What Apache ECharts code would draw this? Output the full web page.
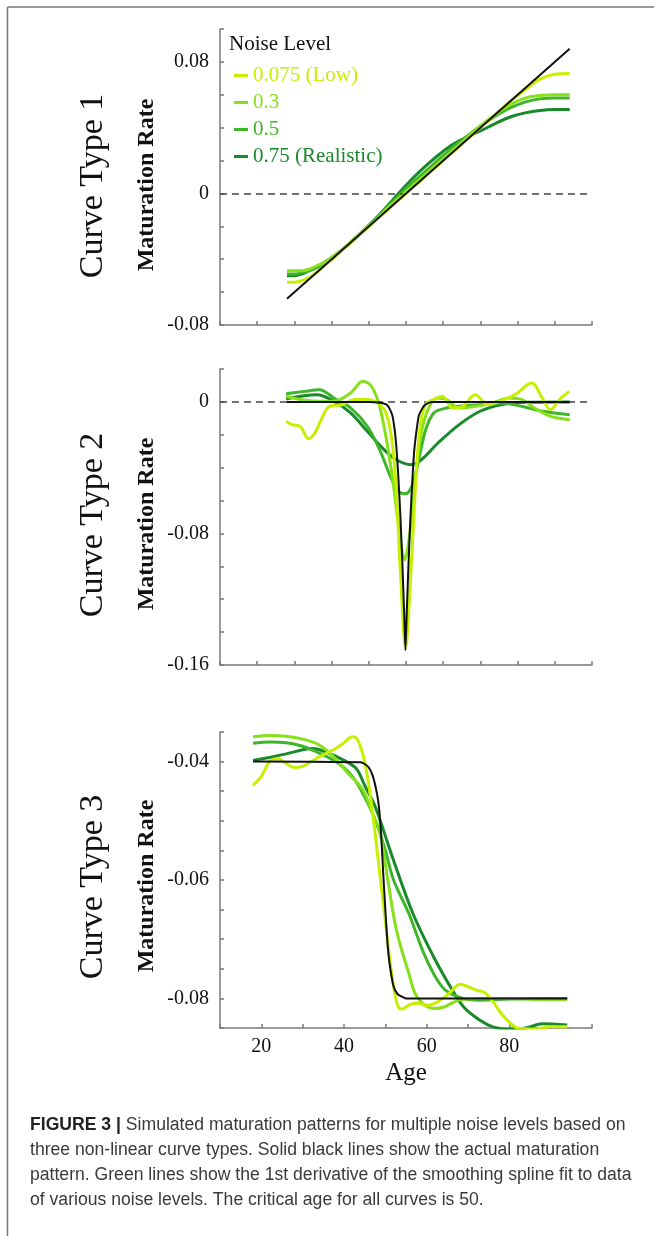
<!DOCTYPE html>
<html>
<head>
<meta charset="utf-8">
<script src="https://cdn.jsdelivr.net/npm/echarts@6/dist/echarts.min.js"></script>
<style>
html,body{margin:0;padding:0;background:#fff;}
#chart{width:654px;height:1236px;}
</style>
</head>
<body>
<div id="chart"></div>
<script>
// ---------------- DATA ----------------
const noiseNames = ['0.075 (Low)', '0.3', '0.5', '0.75 (Realistic)'];
const noiseColors = ['#c6f000', '#86e01a', '#3fb52a', '#198a2a'];

// Curve Type 1
const p1Ages = [18,20,22,24,26,28,30,34,38,42,46,50,54,58,62,66,70,74,78,82,86,90,94];
const p1Low   = [-0.054,-0.054,-0.053,-0.051,-0.048,-0.044,-0.040,-0.032,-0.024,-0.016,-0.008,0.000,0.008,0.016,0.024,0.032,0.040,0.048,0.056,0.063,0.0695,0.0725,0.073];
const p1N03   = [-0.047,-0.047,-0.047,-0.046,-0.044,-0.042,-0.039,-0.032,-0.024,-0.016,-0.007,0.001,0.009,0.017,0.025,0.033,0.041,0.048,0.054,0.058,0.0595,0.060,0.060];
const p1N05   = [-0.049,-0.049,-0.048,-0.047,-0.045,-0.043,-0.040,-0.032,-0.0235,-0.015,-0.006,0.003,0.011,0.019,0.027,0.034,0.041,0.047,0.052,0.0555,0.0575,0.058,0.058];
const p1Real  = [-0.050,-0.050,-0.049,-0.047,-0.045,-0.042,-0.039,-0.032,-0.024,-0.015,-0.005,0.005,0.014,0.022,0.029,0.034,0.038,0.0425,0.0465,0.049,0.0505,0.051,0.051];
const p1TrueAges = [18, 94];
const p1True     = [-0.064, 0.088];

// Curve Type 2
const p2LowAges = [17.8,19.3,21.6,23.8,25.5,27.2,29.4,32.8,36.2,39.5,42.3,44.6,46.2,47.4,48.5,49.9,51.3,52.5,53.6,55.2,57.4,59.8,62.5,65.3,68.6,72,75.4,79.3,83.8,86.6,88.8,91.7,93.9];
const p2Low     = [-0.0118,-0.0138,-0.015,-0.0224,-0.0189,-0.0108,-0.0027,-0.0017,0.0014,0.0014,-0.0006,-0.0067,-0.023,-0.0535,-0.104,-0.149,-0.104,-0.0535,-0.0189,-0.0017,0.0014,0.0034,-0.0037,-0.0027,0.0044,-0.0017,0.0004,0.0044,0.0115,0.0024,-0.0047,0.0024,0.0064];
const p2N03Ages = [17.8,21.6,26.1,30.6,35.1,38.4,40.7,42.9,45.2,46.8,48.5,49.6,50.8,52.5,54.1,56.3,58.6,60.9,64.3,68.8,73.3,77.8,81.2,84.5,89,94];
const p2N03     = [0.0034,0.0014,0.0004,0.0004,0.0054,0.0125,0.0095,-0.0027,-0.029,-0.0535,-0.084,-0.096,-0.084,-0.0474,-0.0189,-0.0027,0.0024,0.0014,-0.0037,-0.0027,-0.0006,0.0024,0.0014,-0.0037,-0.0088,-0.0108];
const p2N05Ages = [17.8,22.8,26.7,30.6,35.1,39.6,42.9,45.8,48,49.9,51.9,53.6,55.3,57.5,60.9,64.3,69.9,75.5,81.1,86.7,94];
const p2N05     = [0.005,0.0064,0.0074,0.0024,-0.0037,-0.0149,-0.029,-0.0453,-0.0545,-0.0559,-0.0494,-0.0332,-0.0169,-0.0067,-0.0037,-0.0027,-0.0017,-0.0006,-0.0027,-0.0057,-0.0078];
const p2RealAges = [17.8,21.6,26.1,30.6,35.1,39.6,44.1,47.4,51.3,54.1,58.6,64.3,69.9,75.5,82.2,94];
const p2Real     = [0.0018,0.0034,0.0044,0.0004,-0.0067,-0.0179,-0.029,-0.0352,-0.0382,-0.0352,-0.025,-0.0138,-0.0057,-0.0017,-0.0002,0];
const p2TrueAges = [18,40,43,45,46.3,47,47.5,48,48.5,49,49.5,49.85,50.2,50.7,51.2,51.7,52.2,52.8,53.5,55,57,94];
const p2True     = [0,0,-0.0005,-0.002,-0.008,-0.018,-0.03,-0.048,-0.07,-0.097,-0.128,-0.151,-0.128,-0.097,-0.07,-0.048,-0.03,-0.018,-0.008,-0.002,0,0];

// Curve Type 3
const p3LowAges = [18,20,22,24,26,28,30,32,34,36,38,40,42,43,44,45,46,47,48,49,50,51,52,53,54,56,58,60,62,64,66,68,70,72,74,76,78,80,82,86,90,94];
const p3Low     = [-0.0440,-0.0425,-0.0400,-0.0395,-0.0403,-0.0410,-0.0408,-0.0400,-0.0392,-0.0385,-0.0378,-0.0368,-0.0358,-0.0360,-0.0375,-0.0400,-0.0440,-0.0490,-0.0550,-0.0610,-0.0670,-0.0730,-0.0780,-0.0812,-0.0818,-0.0810,-0.0808,-0.0812,-0.0808,-0.0800,-0.0788,-0.0776,-0.0780,-0.0786,-0.0790,-0.0805,-0.0825,-0.0840,-0.0850,-0.0852,-0.0848,-0.0848];
const p3N03Ages = [18,22,26,30,34,37.5,41,44.6,47,48.6,50.6,52.7,55.7,57.7,61.7,64,67.8,72,80,88,94];
const p3N03     = [-0.0358,-0.0356,-0.0357,-0.0362,-0.0372,-0.0392,-0.0420,-0.0448,-0.0490,-0.0516,-0.0600,-0.0685,-0.0758,-0.0798,-0.0817,-0.0815,-0.0803,-0.0800,-0.0800,-0.0802,-0.0802];
const p3N05Ages = [18,22,26,30,33.5,38,42,45,47.6,50,52,55.7,59.7,63.8,67.8,72.9,80,88,94];
const p3N05     = [-0.0369,-0.0367,-0.0368,-0.0374,-0.0384,-0.0400,-0.0425,-0.0460,-0.0499,-0.0550,-0.0600,-0.0657,-0.0730,-0.0781,-0.0798,-0.0803,-0.0801,-0.0800,-0.0800];
const p3RealAges = [18,22,26,30,32.5,36,40,43,45,47.6,51.7,56.7,61.7,65.8,69,72.9,76,79.9,84,88,94];
const p3Real     = [-0.0398,-0.0393,-0.0387,-0.0380,-0.0378,-0.0385,-0.0398,-0.0412,-0.0440,-0.0477,-0.0561,-0.0657,-0.0730,-0.0781,-0.0815,-0.0837,-0.0848,-0.0852,-0.0850,-0.0843,-0.0845];
const p3TrueAges = [18,44,45,46,47,48,48.5,49,49.5,50,50.5,51,52,53,54,55,94];
const p3True     = [-0.040,-0.0401,-0.0404,-0.0410,-0.0425,-0.0455,-0.0480,-0.0525,-0.0590,-0.0650,-0.0705,-0.0740,-0.0780,-0.0793,-0.0797,-0.0800,-0.0800];

// Axis tick labels
const yLabels1 = [-0.08, 0, 0.08];
const yLabels2 = [-0.16, -0.08, 0];
const yLabels3 = [-0.08, -0.06, -0.04];
const xLabels3 = [20, 40, 60, 80];
const panelTitles = ['Curve Type 1', 'Curve Type 2', 'Curve Type 3'];
const yAxisTitle = 'Maturation Rate';
const xAxisTitle = 'Age';
const legendTitle = 'Noise Level';
const captionBold = 'FIGURE 3 | ';
const captionLines = [
  'Simulated maturation patterns for multiple noise levels based on',
  'three non-linear curve types. Solid black lines show the actual maturation',
  'pattern. Green lines show the 1st derivative of the smoothing spline fit to data',
  'of various noise levels. The critical age for all curves is 50.'
];

// ---------------- CHART ----------------
const SERIF = "'Liberation Serif','Times New Roman',serif";
const SANS = "'Liberation Sans',Arial,sans-serif";
const zip = (a, b) => a.map((x, i) => [x, b[i]]);
const pick = (list) => (v) => {
  const hit = list.find(l => Math.abs(l - v) < 1e-9);
  return hit === undefined ? '' : String(hit);
};

const grids = [
  {left: 220, top: 29, width: 372, height: 296},
  {left: 220, top: 369, width: 372, height: 296},
  {left: 220, top: 732, width: 372, height: 296}
];

const axisLineStyle = {color: '#7a7a7a', width: 1.5};
function xAxis(i, min, labels) {
  return {
    type: 'value', gridIndex: i, min: min, max: 100, interval: 10,
    axisLine: {show: true, onZero: false, lineStyle: axisLineStyle},
    axisTick: {show: true, inside: true, length: 4, lineStyle: axisLineStyle},
    splitLine: {show: false},
    axisLabel: labels ? {show: true, formatter: pick(labels), color: '#111', fontSize: 20, fontFamily: SERIF, margin: 9} : {show: false},
    name: labels ? xAxisTitle : '',
    nameLocation: 'middle', nameGap: 33,
    nameTextStyle: {fontSize: 25, fontFamily: SERIF, color: '#111'}
  };
}
function yAxis(i, min, max, interval, labels) {
  return {
    type: 'value', gridIndex: i, min: min, max: max, interval: interval,
    axisLine: {show: true, onZero: false, lineStyle: axisLineStyle},
    axisTick: {show: true, inside: true, length: 4, lineStyle: axisLineStyle},
    splitLine: {show: false},
    axisLabel: {formatter: pick(labels), color: '#111', fontSize: 20, fontFamily: SERIF, margin: 11}
  };
}

const greenSets = [
  [[p1Ages, p1Low], [p1Ages, p1N03], [p1Ages, p1N05], [p1Ages, p1Real]],
  [[p2LowAges, p2Low], [p2N03Ages, p2N03], [p2N05Ages, p2N05], [p2RealAges, p2Real]],
  [[p3LowAges, p3Low], [p3N03Ages, p3N03], [p3N05Ages, p3N05], [p3RealAges, p3Real]]
];
const trueSets = [[p1TrueAges, p1True], [p2TrueAges, p2True], [p3TrueAges, p3True]];

const series = [];
for (let g = 0; g < 3; g++) {
  for (let k = 3; k >= 0; k--) {
    series.push({
      type: 'line', name: noiseNames[k], xAxisIndex: g, yAxisIndex: g,
      data: zip(greenSets[g][k][0], greenSets[g][k][1]),
      showSymbol: false, smooth: 0.35,
      lineStyle: {width: 3, color: noiseColors[k]},
      itemStyle: {color: noiseColors[k]},
      z: 2 + (3 - k)
    });
  }
  const blk = {
    type: 'line', name: 'actual', xAxisIndex: g, yAxisIndex: g,
    data: zip(trueSets[g][0], trueSets[g][1]),
    showSymbol: false, smooth: g === 0 ? false : 0.2,
    lineStyle: {width: 2, color: '#111'},
    itemStyle: {color: '#111'},
    z: 10
  };
  if (g < 2) {
    blk.markLine = {
      silent: true, symbol: 'none', animation: false,
      label: {show: false},
      lineStyle: {type: [7, 5], color: '#444', width: 1.6},
      data: [{yAxis: 0}]
    };
  }
  series.push(blk);
}

const graphic = [
  // frame
  {type: 'line', shape: {x1: 7.5, y1: 7, x2: 654, y2: 7}, style: {stroke: '#777', lineWidth: 1.5}},
  {type: 'line', shape: {x1: 7.5, y1: 7, x2: 7.5, y2: 1236}, style: {stroke: '#777', lineWidth: 1.5}},
  // legend title
  {type: 'text', x: 229, y: 44, style: {text: legendTitle, font: '21px ' + SERIF, fill: '#111', textAlign: 'left', textVerticalAlign: 'middle'}}
];
const labelCenters = [186, 525, 887];
for (let g = 0; g < 3; g++) {
  graphic.push({type: 'text', x: 93, y: labelCenters[g], rotation: Math.PI / 2,
    style: {text: panelTitles[g], font: '34px ' + SERIF, fill: '#111', textAlign: 'center', textVerticalAlign: 'middle'}});
  graphic.push({type: 'text', x: 147, y: labelCenters[g] - 1, rotation: Math.PI / 2,
    style: {text: yAxisTitle, font: 'bold 24px ' + SERIF, fill: '#111', textAlign: 'center', textVerticalAlign: 'middle'}});
}
const capY = [1125, 1150, 1175, 1200];
const capFont = '17.6px ' + SANS;
graphic.push({type: 'text', x: 30, y: capY[0],
  style: {text: '{b|' + captionBold + '}{r|' + captionLines[0] + '}', textVerticalAlign: 'middle',
    rich: {b: {font: 'bold 17.6px ' + SANS, fill: '#222'}, r: {font: capFont, fill: '#3a3a3a'}}}});
for (let i = 1; i < 4; i++) {
  graphic.push({type: 'text', x: 30, y: capY[i],
    style: {text: captionLines[i], font: capFont, fill: '#3a3a3a', textVerticalAlign: 'middle'}});
}

const chart = echarts.init(document.getElementById('chart'), null, {renderer: 'canvas'});
chart.setOption({
  animation: false,
  backgroundColor: '#fff',
  grid: grids,
  xAxis: [xAxis(0, 0, null), xAxis(1, 0, null), xAxis(2, 10, xLabels3)],
  yAxis: [yAxis(0, -0.08, 0.1, 0.02, yLabels1), yAxis(1, -0.16, 0.02, 0.02, yLabels2), yAxis(2, -0.085, -0.035, 0.005, yLabels3)],
  legend: {
    left: 229, top: 60, orient: 'vertical', itemWidth: 14, itemHeight: 3, itemGap: 6,
    icon: 'rect', selectedMode: false,
    data: noiseNames.map((n, i) => ({name: n, itemStyle: {color: noiseColors[i]}, textStyle: {color: noiseColors[i]}})),
    textStyle: {fontSize: 21, fontFamily: SERIF, padding: [0, 0, 0, 0]}
  },
  series: series,
  graphic: graphic
});
</script>
</body>
</html>
